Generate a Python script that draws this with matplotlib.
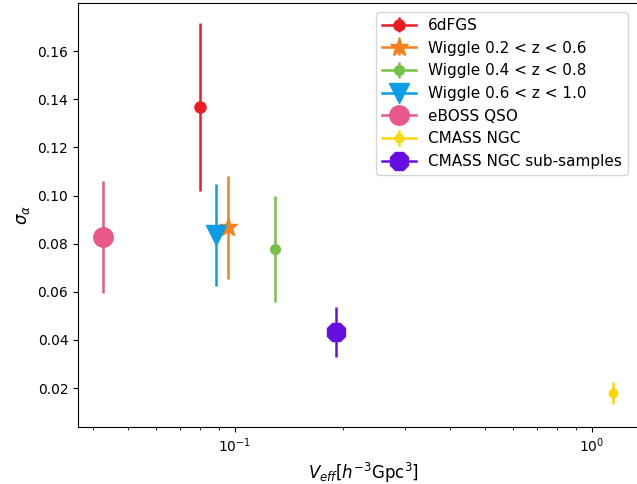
import matplotlib
matplotlib.use("Agg")
import matplotlib.pyplot as plt

labels = ["6dFGS", "Wiggle 0.2 < z < 0.6", "Wiggle 0.4 < z < 0.8", "Wiggle 0.6 < z < 1.0",
          "eBOSS QSO", "CMASS NGC", "CMASS NGC sub-samples"]
veff = [0.0798, 0.0956, 0.129, 0.0884, 0.0426, 1.145, 0.192]
sigma = [0.1367, 0.0869, 0.0777, 0.0836, 0.0827, 0.0179, 0.0433]
err = [0.035, 0.0214, 0.022, 0.0213, 0.0234, 0.0044, 0.0105]
markers = ["o", "*", "o", "v", "o", "o", "8"]
msizes = [8, 14, 7, 15, 14, 6, 14]
colors = ["#ec1c24", "#f7801e", "#76c04a", "#0b9ee6", "#e8588a", "#ffd700", "#6510e0"]

fig = plt.figure(figsize=(6.37, 4.84), dpi=100)
ax = fig.add_axes([78/637, (484-427)/484, (650-78)/637, (427-3)/484])
for i in range(len(labels)):
    ax.errorbar(veff[i], sigma[i], yerr=err[i], marker=markers[i], ls="-", ms=msizes[i],
                color=colors[i], label=labels[i], lw=1.8, elinewidth=1.8)
ax.set_xscale("log")
ax.set_xlim(0.0363, 1.454)
ax.set_ylim(0.0038, 0.180)
ax.set_yticks([0.02, 0.04, 0.06, 0.08, 0.10, 0.12, 0.14, 0.16])
ax.set_ylabel(r"$\sigma_\alpha$", fontsize=12)
ax.set_xlabel(r"$V_{eff}[h^{-3}\mathrm{Gpc}^3]$", fontsize=12)
leg = ax.legend(loc="upper left", bbox_to_anchor=(376/637, 1 - 12/484), bbox_transform=fig.transFigure,
                fontsize=11, borderaxespad=0, handlelength=2.2)
fig.savefig("out.png", dpi=100)
